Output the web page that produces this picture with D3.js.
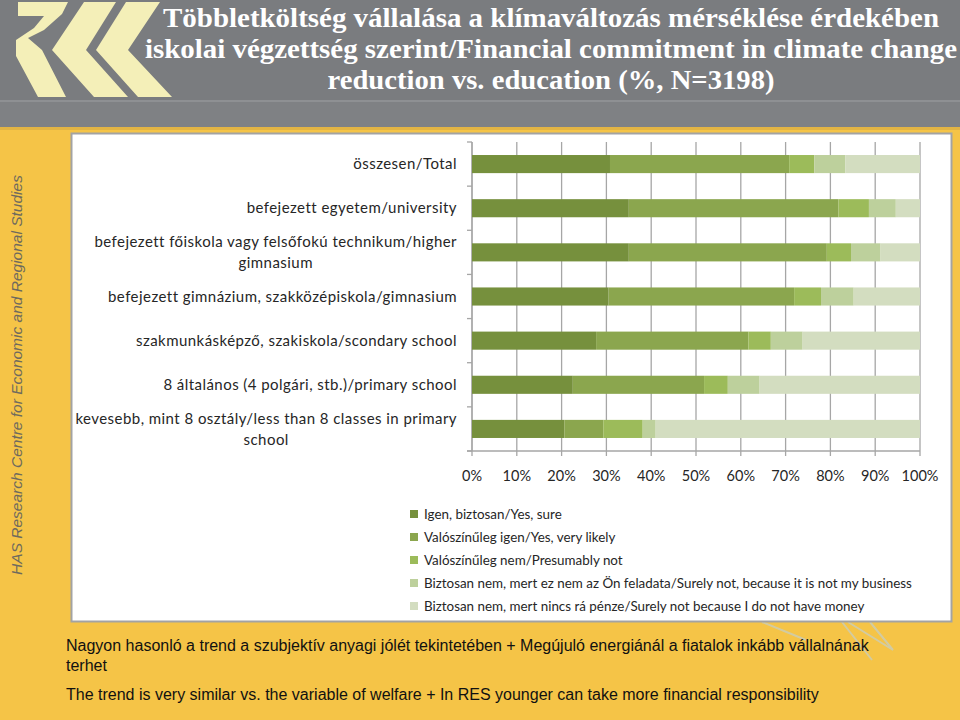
<!DOCTYPE html>
<html><head><meta charset="utf-8">
<script src="https://cdn.jsdelivr.net/npm/d3@7"></script>
<style>body{margin:0;background:#f5c447;}svg{display:block;}</style>
</head><body>
<svg id="c" width="960" height="720"></svg>
<script>
const categories = [
  "összesen/Total",
  "befejezett egyetem/university",
  "befejezett főiskola vagy felsőfokú technikum/higher|gimnasium",
  "befejezett gimnázium, szakközépiskola/gimnasium",
  "szakmunkásképző, szakiskola/scondary school",
  "8 általános (4 polgári, stb.)/primary school",
  "kevesebb, mint 8 osztály/less than 8 classes in primary|school"
];
const seriesNames = [
  "Igen, biztosan/Yes, sure",
  "Valószínűleg igen/Yes, very likely",
  "Valószínűleg nem/Presumably not",
  "Biztosan nem, mert ez nem az Ön feladata/Surely not, because it is not my business",
  "Biztosan nem, mert nincs rá pénze/Surely not because I do not have money"
];
const yesSure      = [30.8, 35.0, 35.0, 30.5, 27.7, 22.5, 20.6];
const yesLikely    = [40.0, 46.8, 44.2, 41.4, 34.0, 29.3, 8.7];
const presumNot    = [5.6, 6.8, 5.4, 6.0, 5.0, 5.3, 8.8];
const notBusiness  = [6.9, 6.0, 6.6, 7.3, 7.1, 7.1, 2.9];
const noMoney      = [16.7, 5.4, 8.8, 14.8, 26.2, 35.8, 59.0];
const tickValues = [0,10,20,30,40,50,60,70,80,90,100];
const titleLines = [
  "Többletköltség vállalása a klímaváltozás mérséklése érdekében",
  "iskolai végzettség szerint/Financial commitment in climate change",
  "reduction vs. education (%, N=3198)"
];
const noteLines = [
  "Nagyon hasonló a trend a szubjektív anyagi jólét tekintetében + Megújuló energiánál a fiatalok inkább vállalnának",
  "terhet",
  "The trend is very similar vs. the variable of welfare + In RES younger can take more financial responsibility"
];
const sideText = "HAS Research Centre for Economic and Regional Studies";

const colors = ["#76903d","#8ba64e","#9cbb5a","#bdd09c","#d3ddc0"];
const svg = d3.select("#c");

// header
svg.append("rect").attr("x",0).attr("y",0).attr("width",960).attr("height",129).attr("fill","#7a7c7f");
svg.append("rect").attr("x",0).attr("y",100).attr("width",960).attr("height",2).attr("fill","#8e9093");
svg.append("rect").attr("x",0).attr("y",102).attr("width",960).attr("height",27).attr("fill","#7f8184");
svg.append("rect").attr("x",0).attr("y",127).attr("width",960).attr("height",3).attr("fill","#e2b444");

// logo
const logo = svg.append("g").attr("fill","#f4efb8");
logo.append("polygon").attr("points","18,2 68,2 62,14 44,30 28,38 42,50 66,97 38,97 16,56 16,40 34,28 44,16 18,16");
logo.append("polygon").attr("points","84,2 116,2 86,50 128,97 94,97 52,50");
logo.append("polygon").attr("points","126,2 160,2 128,50 172,97 138,97 96,50");

// title
const tg = svg.append("g");
const titleLens = [776, 812, 447];
const titleBase = [27, 58, 89];
titleLines.forEach((t,i)=>{
  tg.append("text").attr("x",551).attr("y",titleBase[i]).attr("text-anchor","middle")
    .attr("font-family","'Liberation Serif', serif").attr("font-weight","bold").attr("font-size",28)
    .attr("textLength",titleLens[i]).attr("lengthAdjust","spacingAndGlyphs")
    .attr("fill","#ffffff").text(t);
});

// side text
svg.append("text").attr("transform","translate(22,375) rotate(-90)").attr("text-anchor","middle")
  .attr("font-family","'Liberation Sans', Arial, sans-serif").attr("font-style","italic")
  .attr("font-size",15.5).attr("fill","#6e6a5e").text(sideText);

// decorative faint lines
const deco = svg.append("g").attr("stroke","#c9cdb8").attr("stroke-width",2).attr("fill","none").attr("opacity",0.8);
deco.append("path").attr("d","M762,622 L806,640 M842,622 L872,660 M870,622 L893,650 L848,622");

// chart box
svg.append("rect").attr("x",71.5).attr("y",133.5).attr("width",880).attr("height",488)
  .attr("fill","#ffffff").attr("stroke","#a3a3a3").attr("stroke-width",2);

const x = d3.scaleLinear().domain([0,100]).range([472,920]);
const y = d3.scaleBand().domain(categories).range([142,451]).paddingInner(0.59).paddingOuter(0.295);

// gridlines
const grid = svg.append("g").attr("stroke","#a6a6a6").attr("stroke-width",1.3);
tickValues.forEach(v=>{
  grid.append("line").attr("x1",x(v)).attr("x2",x(v)).attr("y1",142).attr("y2",456);
});
grid.append("line").attr("x1",x(0)).attr("x2",x(0)).attr("y1",142).attr("y2",451);
d3.range(categories.length+1).forEach(i=>{
  const yy = 142 + i*(309/categories.length);
  grid.append("line").attr("x1",x(0)-5).attr("x2",x(0)).attr("y1",yy).attr("y2",yy);
});
grid.append("line").attr("x1",x(0)-5).attr("x2",x(100)).attr("y1",451).attr("y2",451);

// stacked bars
const rows = categories.map((c,i)=>({cat:c, s0:yesSure[i], s1:yesLikely[i], s2:presumNot[i], s3:notBusiness[i], s4:noMoney[i]}));
const stack = d3.stack().keys(["s0","s1","s2","s3","s4"])(rows);
const bars = svg.append("g");
stack.forEach((layer,li)=>{
  bars.selectAll(null).data(layer).enter().append("rect")
    .attr("x",d=>x(d[0])).attr("width",d=>Math.min(x(d[1]),x(100))-x(d[0]))
    .attr("y",d=>y(d.data.cat)).attr("height",y.bandwidth())
    .attr("fill",colors[li]);
});

// category labels
const lab = svg.append("g").attr("font-family","Lato, 'Open Sans', sans-serif").attr("font-size",15)
  .attr("fill","#262626").attr("text-anchor","end").attr("letter-spacing",0.45);
categories.forEach(c=>{
  const parts = c.split("|");
  const cy = y(c)+y.bandwidth()/2;
  if(parts.length===1){
    lab.append("text").attr("x",457).attr("y",cy+5).text(parts[0]);
  } else {
    lab.append("text").attr("x",457).attr("y",cy-10+5).text(parts[0]);
    lab.append("text").attr("x",300).attr("y",cy+11+5).attr("text-anchor","middle").attr("class","second").text(parts[1]);
  }
});
lab.selectAll("text.second").each(function(){
  const prev = this.previousSibling;
  const bb = prev.getBBox();
  d3.select(this).attr("x", bb.x + bb.width/2);
});

// x tick labels
const tl = svg.append("g").attr("font-family","Lato, 'Open Sans', sans-serif").attr("font-size",14.5)
  .attr("fill","#262626").attr("text-anchor","middle");
tickValues.forEach(v=>{
  tl.append("text").attr("x",x(v)).attr("y",481).text(v+"%");
});

// legend
const lg = svg.append("g").attr("font-family","Lato, 'Open Sans', sans-serif").attr("font-size",13.4).attr("fill","#262626");
seriesNames.forEach((s,i)=>{
  const ly = 518 + i*23;
  lg.append("rect").attr("x",410).attr("y",ly-8).attr("width",8).attr("height",8).attr("fill",colors[i]);
  lg.append("text").attr("x",424).attr("y",ly+1).text(s);
});

// notes
const ng = svg.append("g").attr("font-family","'Liberation Sans', Arial, sans-serif").attr("font-size",16).attr("fill","#111");
[651,671,700].forEach((yy,i)=>{
  ng.append("text").attr("x",66).attr("y",yy).text(noteLines[i]);
});
</script>
</body></html>
